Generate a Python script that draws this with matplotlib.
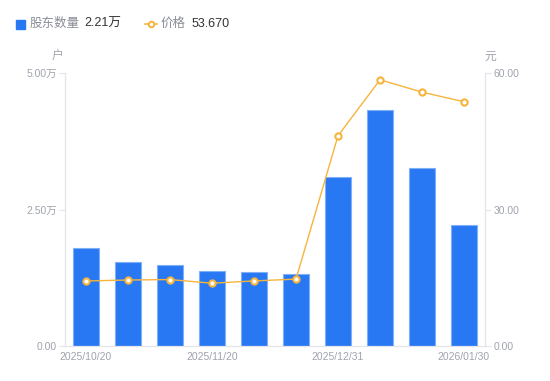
import matplotlib.pyplot as plt
from matplotlib.lines import Line2D

plt.rcParams['font.family'] = ['Liberation Sans', 'Noto Sans CJK SC', 'DejaVu Sans']

# 数据
dates = ['2025/10/20', '', '', '2025/11/20', '', '', '2025/12/31', '', '', '2026/01/30']
holders = [1.80, 1.54, 1.48, 1.37, 1.355, 1.32, 3.10, 4.32, 3.26, 2.21]  # 万户
price = [14.3, 14.5, 14.6, 13.8, 14.3, 14.7, 46.2, 58.5, 55.8, 53.67]  # 元

blue = '#2878f3'
orange = '#f7b43c'
grey = '#a0a3ad'
axis_c = '#e3e5ea'

fig = plt.figure(figsize=(5.5, 3.81), dpi=100)
ax = fig.add_axes([65 / 550, 1 - 346 / 381, 420 / 550, 273 / 381])
ax2 = ax.twinx()

x = list(range(len(holders)))
ax.bar(x, holders, width=0.6, color=blue, edgecolor='#7fb0f7', linewidth=0.8, zorder=2)
ax.set_xlim(-0.5, len(holders) - 0.5)
ax.set_ylim(0, 5)
ax.set_yticks([0, 2.5, 5])
ax.set_yticklabels(['0.00', '2.50万', '5.00万'])

ax2.plot(x, price, color=orange, lw=1, marker='o', ms=4.5, mfc='white',
         mec=orange, mew=1.5, zorder=3)
ax2.set_ylim(0, 60)
ax2.set_yticks([0, 30, 60])
ax2.set_yticklabels(['0.00', '30.00', '60.00'])

ax.set_xticks(x)
ax.set_xticklabels(dates)
ax.tick_params(axis='x', length=0, colors=grey, labelsize=7.5, pad=4)
ax.tick_params(axis='y', length=4, color=axis_c, labelcolor=grey, labelsize=7.5, pad=2)
ax2.tick_params(axis='y', length=4, color=axis_c, labelcolor=grey, labelsize=7.5, pad=2)

for a in (ax, ax2):
    a.spines['top'].set_visible(False)
    for s in ('left', 'right', 'bottom'):
        a.spines[s].set_color(axis_c)
ax.set_zorder(ax2.get_zorder() - 1)
ax2.patch.set_visible(False)
ax.patch.set_visible(False)

fig.text(58 / 550, 1 - 57 / 381, '户', color=grey, fontsize=8.5, ha='center', va='center')
fig.text(490 / 550, 1 - 57 / 381, '元', color=grey, fontsize=8.5, ha='center', va='center')

# 图例
fig.patches.append(plt.Rectangle((16 / 550, 1 - 29 / 381), 9 / 550, 9 / 381,
                                 transform=fig.transFigure, color=blue, figure=fig))
fig.text(30 / 550, 1 - 24 / 381, '股东数量', color='#8a8d96', fontsize=9, va='center')
fig.text(84 / 550, 1 - 24 / 381, '2.21万', color='#333333', fontsize=9, va='center')
fig.lines.append(Line2D([145 / 550, 157 / 550], [1 - 24 / 381, 1 - 24 / 381],
                        transform=fig.transFigure, color=orange, lw=1.2))
fig.lines.append(Line2D([151 / 550], [1 - 24 / 381], transform=fig.transFigure,
                        marker='o', ms=4, mfc='white', mec=orange, mew=1.4))
fig.text(161 / 550, 1 - 24 / 381, '价格', color='#8a8d96', fontsize=9, va='center')
fig.text(192 / 550, 1 - 24 / 381, '53.670', color='#333333', fontsize=9, va='center')

fig.savefig('out.png', dpi=100)
